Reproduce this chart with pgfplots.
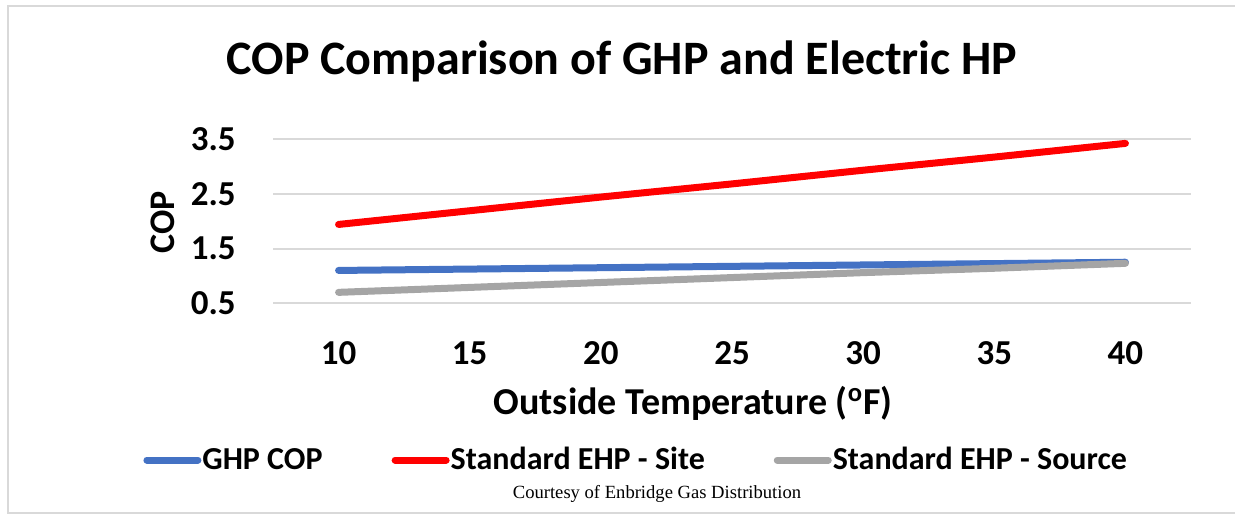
\documentclass[border=0pt]{standalone}
\usepackage{pgfplots}
\pgfplotsset{compat=1.18}
\usepackage{fontspec}
\setmainfont{Carlito}
\newfontfamily\courtesyfont{Liberation Serif}

\definecolor{ghpblue}{HTML}{4472C4}
\definecolor{sitered}{HTML}{FF0000}
\definecolor{srcgray}{HTML}{A5A5A5}
\definecolor{gridgray}{HTML}{D9D9D9}

\begin{document}
\begin{tikzpicture}
% page: 1235 x 514 px, 1 px = 0.5 pt
\path[use as bounding box] (0pt,0pt) rectangle (617.5pt,-257pt);
\draw[gridgray, line width=1pt] (617.5pt,-3pt) -- (4pt,-3pt) -- (4pt,-256.5pt) -- (617.5pt,-256.5pt);

\node[anchor=base, font=\bfseries\fontsize{24}{28}\selectfont] at (311pt,-37pt)
  {COP Comparison of GHP and Electric HP};

\begin{axis}[
    at={(136.5pt,-151.65pt)}, anchor=south west,
    scale only axis, width=459pt, height=82.15pt,
    xmin=7.5, xmax=42.5,
    ymin=0.5, ymax=3.5,
    xtick={10,15,...,40},
    ytick={0.5,1.5,2.5,3.5},
    y tick label style={/pgf/number format/fixed, /pgf/number format/fixed zerofill, /pgf/number format/precision=1},
    /pgf/number format/assume math mode=true,
    ticklabel style={font=\bfseries\fontsize{17.5}{20}\selectfont, inner sep=0pt},
    yticklabel style={anchor=east, xshift=-18.5pt},
    xticklabel style={anchor=north, yshift=-19pt},
    axis line style={draw=none},
    major tick length=0pt,
    ymajorgrids,
    grid style={gridgray, line width=1pt},
    clip=false,
    legend columns=3,
    legend style={
        at={(axis description cs:-0.1416,-0.954)}, anchor=west,
        draw=none, fill=none, inner sep=0pt,
        font=\bfseries\fontsize{16}{19}\selectfont,
        nodes={inner xsep=0.5pt, inner ysep=1.5pt},
        /tikz/every even column/.append style={column sep=34pt},
    },
    legend image code/.code={\draw[#1] (1.75pt,0pt) -- (27.25pt,0pt);},
    every axis plot/.append style={line width=3.5pt, line cap=round, line join=round},
]
\addplot[ghpblue] coordinates {
    (10,1.10) (15,1.125) (20,1.15) (25,1.175) (30,1.20) (35,1.225) (40,1.25)
};
\addlegendentry{GHP COP}
\addplot[sitered] coordinates {
    (10,1.94) (15,2.19) (20,2.44) (25,2.68) (30,2.93) (35,3.17) (40,3.42)
};
\addlegendentry{Standard EHP - Site}
\addplot[srcgray] coordinates {
    (10,0.70) (15,0.79) (20,0.88) (25,0.97) (30,1.06) (35,1.14) (40,1.23)
};
\addlegendentry{Standard EHP - Source}
\end{axis}

\node[rotate=90, font=\bfseries\fontsize{18}{21}\selectfont] at (81.5pt,-111pt) {COP};
\node[anchor=base, font=\bfseries\fontsize{19}{22}\selectfont] at (346.5pt,-207pt)
  {Outside Temperature (\textsuperscript{o}F)};
\node[anchor=base, font=\courtesyfont\fontsize{9.3}{11}\selectfont] at (328.5pt,-249pt)
  {Courtesy of Enbridge Gas Distribution};
\end{tikzpicture}
\end{document}
